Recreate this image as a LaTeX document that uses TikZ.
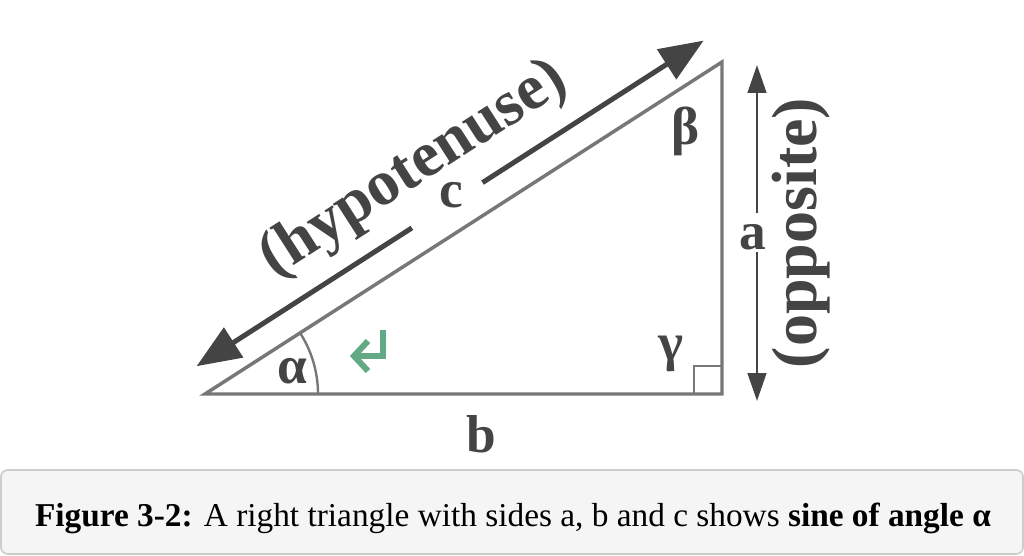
\documentclass[tikz,border=0pt]{standalone}
\usepackage{fontspec}
\setmainfont{Liberation Serif}
\usetikzlibrary{arrows.meta}
\definecolor{lbl}{HTML}{444444}
\definecolor{tri}{HTML}{777777}
\definecolor{grn}{HTML}{62AA85}
\definecolor{capfill}{HTML}{F5F5F5}
\definecolor{capdraw}{HTML}{CCCCCC}
\begin{document}
\begin{tikzpicture}[x=0.75pt,y=-0.75pt,
  lab/.style={text=lbl, font=\bfseries\fontsize{40}{44}\selectfont, inner sep=0pt},
  big/.style={text=lbl, font=\bfseries\fontsize{48}{52}\selectfont, inner sep=0pt},
  side/.style={draw=tri, line width=2.6pt, line join=miter},
  thin/.style={draw=tri, line width=1.8pt},
  harrow/.style={draw=lbl, line width=3.75pt, -{Triangle[length=33pt,width=26pt]}},
  varrow/.style={draw=lbl, line width=1.9pt, -{Triangle[length=21pt,width=14pt]}},
  greenmark/.style={draw=grn, line width=4.5pt, line join=miter},
]
\useasboundingbox (0,0) rectangle (1024,556);
% triangle
\coordinate (A) at (205,394);
\coordinate (B) at (722,394);
\coordinate (C) at (722,62);
\draw[side] (A) -- (B) -- (C) -- cycle;
% right angle mark
\coordinate (s1) at (694,394);
\coordinate (s2) at (694,366);
\coordinate (s3) at (722,366);
\draw[thin] (s1) -- (s2) -- (s3);
% alpha arc
\draw[thin] (A) ++(113,0) arc[start angle=0, end angle=-32.7, radius=113];
% hypotenuse arrow
\coordinate (h1) at (411.9,227.9);
\coordinate (h2) at (196.6,366.2);
\coordinate (h3) at (482.5,182.6);
\coordinate (h4) at (703.6,40.6);
\draw[harrow] (h1) -- (h2);
\draw[harrow] (h3) -- (h4);
% opposite arrow
\coordinate (v1) at (757,213);
\coordinate (v2) at (757,65);
\coordinate (v3) at (757,252);
\coordinate (v4) at (757,401);
\draw[varrow] (v1) -- (v2);
\draw[varrow] (v3) -- (v4);
% green mark
\coordinate (g1) at (383,330);
\coordinate (g2) at (383,356);
\coordinate (g3) at (354,356);
\coordinate (g4) at (368,341);
\coordinate (g5) at (368,371);
\draw[greenmark] (g1) -- (g2) -- (g3);
\draw[greenmark] (g4) -- (g3) -- (g5);
% labels
\node[lab] (lc) at (451,195) {c};
\node[lab] (la) at (753,237) {a};
\node[lab] (lb) at (481,434) {b};
\node[lab] (lal) at (292,371) {α};
\node[lab] (lbe) at (686,131) {β};
\node[lab] (lga) at (671,354) {γ};
\node[big, rotate=32.7] (hyp) at (414,170) {(hypotenuse)};
\node[big, rotate=90] (opp) at (801,233) {(opposite)};
% caption
\coordinate (cb1) at (1,470);
\coordinate (cb2) at (1023,554);
\draw[draw=capdraw, fill=capfill, line width=1.2pt, rounded corners=5pt] (cb1) rectangle (cb2);
\node[font=\fontsize{25}{29}\selectfont, text=black, inner sep=0pt] (cap) at (513,518)
  {\textbf{Figure 3-2:} A right triangle with sides a, b and c shows \textbf{sine of angle α}};
\end{tikzpicture}
\end{document}
